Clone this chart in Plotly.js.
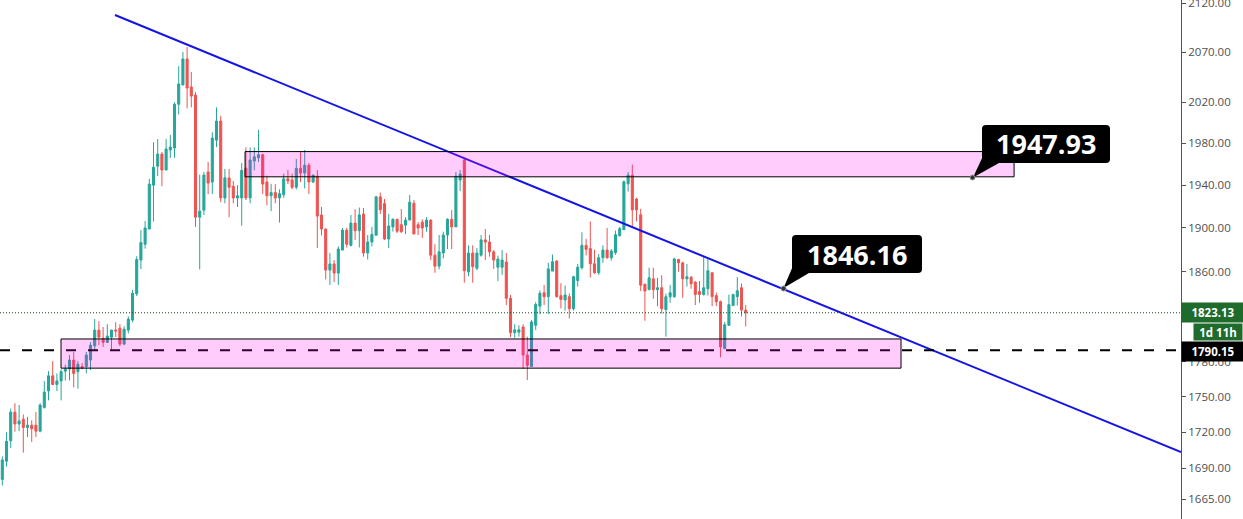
<!DOCTYPE html>
<html><head><meta charset="utf-8">
<script src="https://cdn.plot.ly/plotly-3.0.1.min.js"></script>
<style>html,body{margin:0;padding:0;background:#fff;overflow:hidden}#chart{width:1243px;height:519px;}</style>
</head><body><div id="chart"></div>
<script>
// ---- data (daily candles) ----
const open = [1681,1696,1713,1737,1727,1731,1724,1726,1726,1721,
1741,1755,1768,1760.5,1763.6,1772,1773.8,1781.6,1771.6,1776,
1776,1781.6,1794,1807.8,1800.7,1797,1801.6,1807.8,1809.5,1795.5,
1807.8,1816.6,1840,1870.5,1885,1899,1940,1958,1969.6,1954.4,
1973.5,1975.4,2018,2037,2063,2035,2027,1910,1916.6,1952.5,
1943,1983,2001.6,1928,1946.8,1939,1928,1928,1956,1928,
1963,1966,1969,1943,1930,1933,1928,1931,1946,1945,
1938,1956,1951.5,1959,1943,1948.6,1912,1899,1861.4,1867,
1858.7,1879.7,1898,1884,1904.5,1897.4,1913,1877,1887,1893.3,
1929,1922.7,1889.8,1901,1908,1903,1902.6,1907.3,1923,1903,
1905.4,1901,1907.3,1875,1865,1877,1893.5,1908,1901,1944.9,
1963.9,1859.8,1877,1863,1875,1889,1887,1878,1864,1864,
1868.7,1836,1805.5,1806,1810.5,1786,1776,1812,1829,1841,
1837.5,1860.5,1869.6,1838.4,1834.5,1837.5,1826.7,1852,1863.5,1884,
1881,1867.2,1859,1872.6,1879.7,1872.6,1877.3,1892.9,1898.4,1941.3,
1949.5,1927,1912.2,1848.7,1843.7,1853.5,1843.7,1845.5,1826,1837.4,
1837.4,1871,1868,1853.5,1855,1850.5,1842,1839.5,1844.6,1859,
1838.4,1833,1791.5,1812,1829.5,1837.5,1845.5,1825.5];
const high = [1700,1720,1740,1744.5,1743,1735,1733,1730,1737,1744.5,
1763.5,1772,1780.7,1770,1773.7,1777.6,1786,1788.5,1780.7,1779,
1788.7,1797.2,1817.5,1815.7,1810.5,1813,1808,1814.8,1813,1811.2,
1820,1843.4,1874,1898,1906.4,1946,1981,1984,1971.6,1984,
1988,2020,2056,2070,2075,2050,2030,1950,1952.5,1962,
1990.6,2015,2006.7,1955.4,1955.4,1944,1940,1961,1976,1976,
1976,1993,1970,1949,1941,1941,1936,1951,1954.4,1951,
1965,1972.5,1973.5,1961,1950,1954.4,1919.5,1899.5,1877,1870.5,
1883,1900,1900,1912,1917.5,1919,1918.5,1893.5,1901,1930,
1933,1927,1913,1909,1908.5,1917.5,1910,1930.7,1926,1905.4,
1908,1910,1908,1885,1893.5,1896.6,1909,1916.6,1952.5,1954.4,
1966,1884,1884,1881.5,1893.5,1899,1893.5,1879.7,1874.5,1879.7,
1877,1839,1813,1812,1813,1802,1816.6,1832.6,1843,1848,
1868,1875.5,1870.5,1849.5,1847.5,1840.5,1856.3,1867,1896,1890,
1906,1880,1876,1884,1900,1880.5,1897.5,1901,1944.5,1952.5,
1959.5,1928.2,1917.8,1849,1863.6,1863.6,1854.4,1856.8,1840.3,1848,
1872.5,1871.7,1869,1867,1856,1851.5,1851.5,1873.6,1872.5,1859.5,
1841.2,1834,1815,1839.3,1840.2,1855,1849.3,1830];
const low = [1676,1691.5,1707,1720.5,1721,1703,1716,1712,1716,1720,
1740,1747,1760,1755,1747,1764,1764,1758,1757,1773.7,
1770,1773,1790,1794.6,1793,1797,1790,1801.6,1793.7,1794.6,
1805,1814.8,1838,1862.3,1881,1899,1906,1948.6,1939,1954.4,
1966,1966,2008,2037,2014,2015,1901,1862,1912,1931.6,
1931.6,1976.4,1924,1923,1910,1923,1919.5,1902,1926,1923,
1954,1962,1931.6,1921,1915.6,1923,1905,1928,1941,1936,
1936,1943,1937,1931.6,1942,1881.5,1893,1853,1848,1850.6,
1848,1879.7,1882,1883,1889,1882,1873.6,1871,1883,1893.3,
1913,1889,1881.5,1896.6,1895.3,1895.3,1894.4,1907.3,1894.4,1893.5,
1890.7,1896.6,1870.5,1859,1862,1872,1880.6,1880.6,1901,1934.5,
1850,1855.8,1850,1861.4,1873.6,1870.5,1873.6,1862.5,1851.5,1857,
1830,1801.5,1801,1802,1774,1764.3,1776,1807.8,1822,1830,
1822,1860.5,1836.6,1827,1825,1818,1825,1846.5,1862,1874.8,
1854.6,1858,1857,1868,1871.7,1870,1875.4,1892,1898.4,1934,
1901.3,1906,1842.5,1816,1843.7,1835.6,1829,1822.3,1802,1832,
1836.5,1860,1836.5,1846.5,1844.6,1830,1832,1838.5,1838.5,1829,
1829,1784,1791.5,1812,1829.5,1829.5,1820,1811];
const close = [1697,1712.5,1737,1727,1729.5,1724,1726,1723,1721,1743,
1754,1768,1760.5,1763.6,1771.6,1773.8,1781.6,1770,1778,1774.6,
1785.9,1794.6,1807.8,1801.6,1797,1802.5,1807.8,1807,1795.5,1808.6,
1817.5,1840.6,1871,1886.5,1900,1941,1957,1969.6,1954.4,1974.5,
1976.4,2018,2038,2063,2034,2026,1910,1915.6,1949.6,1942,
1985,2001.6,1928,1947,1938,1928,1930,1954,1928,1964,
1967,1969,1941,1930,1933,1928,1932,1946,1944,1938,
1956,1951.5,1959,1943,1949.6,1911,1899,1861.4,1867,1858.7,
1880.6,1898,1885,1904.5,1897.4,1912,1877,1887,1894,1929,
1917,1889.8,1901.8,1908,1897,1896.6,1907.3,1924,1894.4,1900,
1900,1907.3,1875,1865,1878,1893.5,1908,1901,1948.6,1950.5,
1860.8,1876.9,1864.6,1876.9,1889,1887,1878,1870.5,1871.5,1870.5,
1836,1805.5,1808,1808,1786,1777,1815,1830.5,1840.5,1837.5,
1862.5,1869,1837.5,1835,1839,1826.7,1855.4,1864,1884,1880.3,
1867.2,1859,1872.6,1879.7,1872.6,1878.8,1893.8,1899.3,1943.2,1949.5,
1916.8,1916.8,1847.8,1842.5,1854.4,1843.7,1845.5,1826.7,1837.4,1841,
1871.6,1868,1853.5,1855.4,1849,1839.5,1839.5,1845.5,1860.8,1837.5,
1833,1793,1812.5,1830.3,1839.3,1842.8,1825.5,1823.13];
const barIndex = open.map((_, i) => i);

const tickValues = [2120, 2070, 2020, 1980, 1940, 1900, 1860, 1780, 1750, 1720, 1690, 1665];
const tickLabels = ["2120.00","2070.00","2020.00","1980.00","1940.00","1900.00","1860.00","1780.00","1750.00","1720.00","1690.00","1665.00"];

const trendX = [26.83, 280.64];
const trendY = [2107.6, 1703.5];
const upperZoneX = [57.8, 240.9];
const upperZoneY = [1947.93, 1972];
const lowerZoneX = [13.98, 213.98];
const lowerZoneY = [1774.6, 1800];
const lastPrice = 1823.13;
const supportLevel = 1790.15;
const countdownText = "1d 11h";
const calloutX = [230.9, 185.9];
const calloutPrices = [1947.93, 1846.16];

// ---- layout helpers (pixel -> paper) ----
const PW = 1181, PH = 519;
const fx = p => p / PW;
const fy = p => 1 - p / PH;
function roundRect(x0, y0, x1, y1, r) {
  const rx = r / PW, ry = r / PH;
  const a = fx(x0), b = fx(x1), t = fy(y0), d = fy(y1);
  return `M${a+rx},${t} L${b-rx},${t} Q${b},${t} ${b},${t-ry} L${b},${d+ry} Q${b},${d} ${b-rx},${d} L${a+rx},${d} Q${a},${d} ${a},${d+ry} L${a},${t-ry} Q${a},${t} ${a+rx},${t} Z`;
}
function tri(p) {
  return `M${fx(p[0])},${fy(p[1])} L${fx(p[2])},${fy(p[3])} L${fx(p[4])},${fy(p[5])} Z`;
}

const up = '#26a69a', down = '#ef5350';
const traces = [
  {
    type: 'scatter', mode: 'lines', x: trendX, y: trendY,
    line: {color: '#1414e6', width: 2}, hoverinfo: 'skip', showlegend: false
  },
  {
    type: 'candlestick', x: barIndex, open: open, high: high, low: low, close: close,
    increasing: {line: {color: up, width: 1}, fillcolor: up},
    decreasing: {line: {color: down, width: 1}, fillcolor: down},
    whiskerwidth: 0, hoverinfo: 'skip', showlegend: false
  }
];

const boxes = [
  {box: [982, 125, 1110, 163], tail: [983, 156, 999, 163, 973, 177.5], text: '1947.93', dot: [972.5, 177.5]},
  {box: [792, 235, 922, 273], tail: [793, 266, 809, 273, 783.5, 288], text: '1846.16', dot: [783.5, 288.5]}
];

const shapes = [
  {type: 'line', xref: 'paper', x0: 0, x1: 1, yref: 'y', y0: supportLevel, y1: supportLevel,
   line: {color: '#000', width: 2, dash: '10px,12px'}, layer: 'above'},
  {type: 'line', xref: 'paper', x0: 0, x1: 1, yref: 'y', y0: lastPrice, y1: lastPrice,
   line: {color: '#144a1c', width: 1, dash: '1px,2px'}, layer: 'above'},
  {type: 'rect', xref: 'x', yref: 'y', x0: upperZoneX[0], x1: upperZoneX[1], y0: upperZoneY[0], y1: upperZoneY[1],
   fillcolor: 'rgba(255,0,242,0.2)', line: {color: '#000', width: 1}, layer: 'above'},
  {type: 'rect', xref: 'x', yref: 'y', x0: lowerZoneX[0], x1: lowerZoneX[1], y0: lowerZoneY[0], y1: lowerZoneY[1],
   fillcolor: 'rgba(255,0,242,0.2)', line: {color: '#000', width: 1}, layer: 'above'}
];
const annotations = [];
boxes.forEach(b => {
  shapes.push({type: 'path', xref: 'paper', yref: 'paper', path: tri(b.tail), fillcolor: '#000', line: {width: 0}, layer: 'above'});
  shapes.push({type: 'path', xref: 'paper', yref: 'paper', path: roundRect(b.box[0], b.box[1], b.box[2], b.box[3], 4), fillcolor: '#000', line: {width: 0}, layer: 'above'});
  shapes.push({type: 'circle', xref: 'paper', yref: 'paper', x0: fx(b.dot[0]-2.5), x1: fx(b.dot[0]+2.5), y0: fy(b.dot[1]-2.5), y1: fy(b.dot[1]+2.5),
    fillcolor: '#333', line: {color: '#999', width: 1}, layer: 'above'});
  annotations.push({xref: 'paper', yref: 'paper', x: fx((b.box[0]+b.box[2])/2), y: fy((b.box[1]+b.box[3])/2),
    xanchor: 'center', yanchor: 'middle', showarrow: false, text: '<b>' + b.text + '</b>',
    font: {family: 'Open Sans', size: 27, color: '#fff'}});
});
// price labels on the axis
annotations.push({xref: 'paper', yref: 'paper', x: 1, y: fy(312.8), xanchor: 'left', yanchor: 'middle', showarrow: false,
  text: '<b>' + lastPrice.toFixed(2) + '</b>', bgcolor: '#1e6b2c', width: 58, height: 15, borderpad: 2,
  font: {family: 'Open Sans', size: 11.5, color: '#fff'}});
annotations.push({xref: 'paper', yref: 'paper', x: 1, y: fy(332), xanchor: 'left', yanchor: 'middle', showarrow: false, xshift: 12,
  text: '<b>' + countdownText + '</b>', bgcolor: '#1e6b2c', width: 44, height: 12, borderpad: 2,
  font: {family: 'Open Sans', size: 11.5, color: '#fff'}});
annotations.push({xref: 'paper', yref: 'paper', x: 1, y: fy(351.2), xanchor: 'left', yanchor: 'middle', showarrow: false,
  text: '<b>' + supportLevel.toFixed(2) + '</b>', bgcolor: '#000', width: 58, height: 15, borderpad: 2,
  font: {family: 'Open Sans', size: 11.5, color: '#fff'}});

const layout = {
  width: 1243, height: 519,
  margin: {l: 0, r: 62, t: 0, b: 0, pad: 0},
  paper_bgcolor: '#fff', plot_bgcolor: '#fff',
  showlegend: false,
  xaxis: {range: [-0.55, 280.64], showgrid: false, zeroline: false, showticklabels: false, ticks: '',
          showline: false, rangeslider: {visible: false}, fixedrange: true},
  yaxis: {type: 'log', side: 'right', range: [Math.log10(1648.9), Math.log10(2123.1)],
          tickmode: 'array', tickvals: tickValues, ticktext: tickLabels, ticklabeloverflow: 'allow',
          ticks: 'outside', ticklen: 4, tickcolor: '#50535e', tickwidth: 1,
          showline: true, linecolor: '#50535e', linewidth: 1, mirror: false,
          showgrid: false, zeroline: false,
          tickfont: {family: 'Open Sans', size: 11.5, color: '#4f4f4f'}, fixedrange: true},
  shapes: shapes,
  annotations: annotations
};
Plotly.newPlot('chart', traces, layout, {displayModeBar: false, staticPlot: true});
</script>
</body></html>
